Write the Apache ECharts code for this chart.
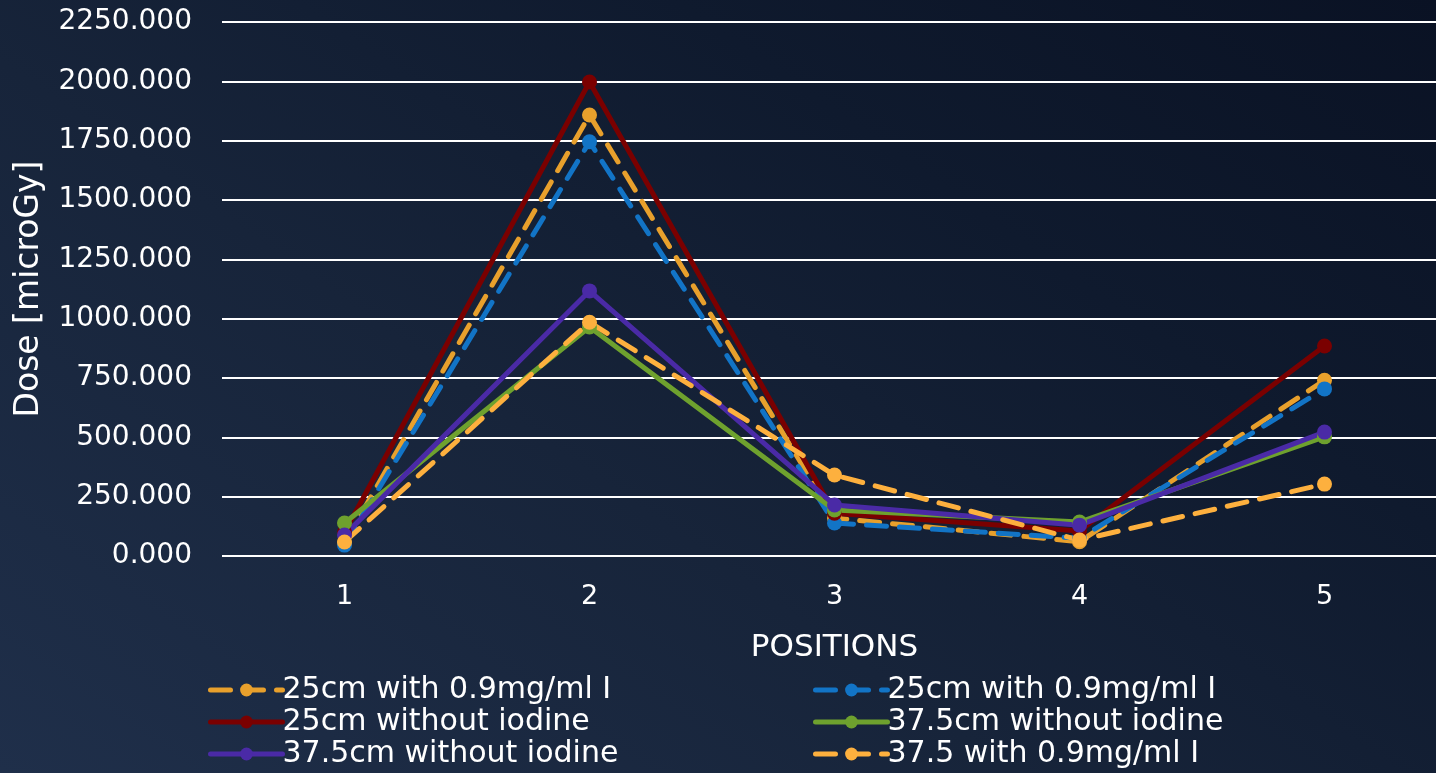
<!DOCTYPE html>
<html><head><meta charset="utf-8">
<script src="https://cdn.jsdelivr.net/npm/echarts@6/dist/echarts.min.js"></script>
<style>html,body{margin:0;padding:0;width:1436px;height:773px;overflow:hidden;}
#c{width:1436px;height:773px;background:linear-gradient(35deg,#1f2f4a 0%,#17243a 40%,#0f1a2e 70%,#0a1224 100%);}</style>
</head><body><div id="c"></div>
<script>
const categories = ['1','2','3','4','5'];
const s25withI_orange = [55, 1858, 160, 60, 740];
const s25withI_blue = [46, 1745, 139, 75, 704];
const s25without = [100, 1997, 180, 105, 885];
const s375without_green = [139, 965, 194, 143, 502];
const s375without_purple = [88, 1117, 215, 130, 522];
const s375withI = [59, 985, 341, 67, 303];
const names = ['25cm with 0.9mg/ml I','25cm with 0.9mg/ml I ','25cm without iodine','37.5cm without iodine','37.5cm without iodine ','37.5 with 0.9mg/ml I'];

const font = '"DejaVu Sans", sans-serif';
function mk(name, data, color, dashed){
  return {name, type:'line', data, symbol:'circle', symbolSize:15,
    lineStyle:{color, width:5, type: dashed ? [20,13] : 'solid', cap:'round'},
    itemStyle:{color}, emphasis:{disabled:true}, animation:false};
}
function lg(name, left, top){
  return {data:[name], left, top, itemWidth:72, itemHeight:16, itemGap:0,
    lineStyle:{width:5}, textStyle:{color:'#fff', fontSize:30, fontFamily:font, padding:[0,0,0,-5]}};
}
const chart = echarts.init(document.getElementById('c'));
chart.setOption({
  animation:false,
  grid:{left:222, top:22, width:1225, height:534, outerBoundsMode:'none'},
  xAxis:{type:'category', data:categories, boundaryGap:true,
    axisLine:{show:false}, axisTick:{show:false},
    axisLabel:{color:'#fff', fontSize:27, fontFamily:font, margin:27},
    name:'POSITIONS', nameLocation:'middle', nameGap:76,
    nameTextStyle:{color:'#fff', fontSize:31, fontFamily:font}},
  yAxis:{type:'value', min:0, max:2250, interval:250,
    axisLine:{show:false}, axisTick:{show:false},
    splitLine:{lineStyle:{color:'#ffffff', width:2}},
    axisLabel:{color:'#fff', fontSize:28, fontFamily:font, margin:30, formatter:v=>v.toFixed(3)},
    name:'Dose [microGy]', nameLocation:'middle', nameGap:176, nameRotate:90,
    nameTextStyle:{color:'#fff', fontSize:33, fontFamily:font}},
  legend:[
    lg(names[0],203,670), lg(names[2],203,702), lg(names[4],203,734),
    lg(names[1],808,670), lg(names[3],808,702), lg(names[5],808,734)
  ],
  series:[
    mk(names[0], s25withI_orange, '#E8A02C', true),
    mk(names[1], s25withI_blue, '#1274C6', true),
    mk(names[2], s25without, '#7A0000', false),
    mk(names[3], s375without_green, '#6EA12E', false),
    mk(names[4], s375without_purple, '#4A2AA6', false),
    mk(names[5], s375withI, '#FDB03E', true)
  ]
});
</script></body></html>
